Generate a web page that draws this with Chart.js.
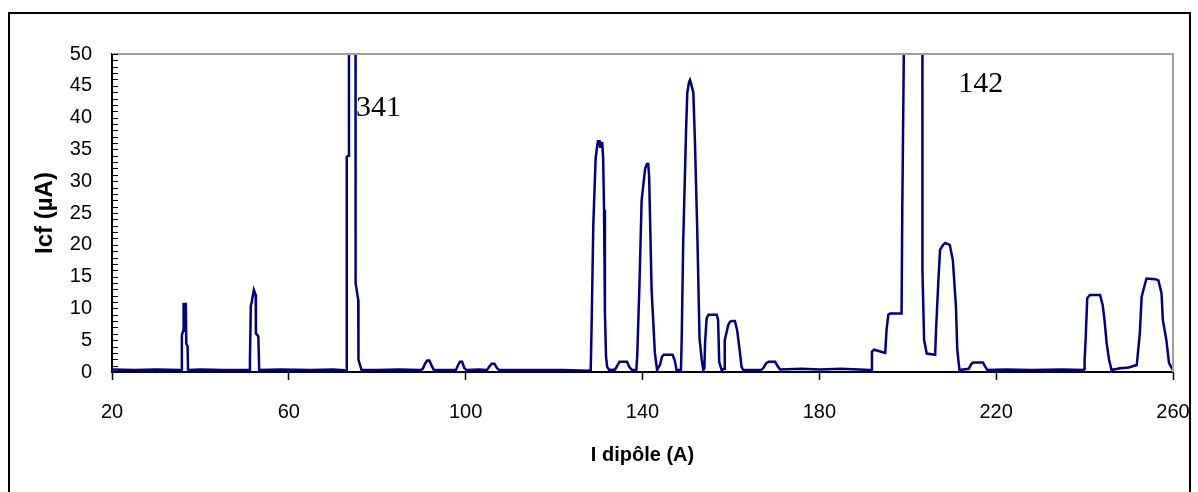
<!DOCTYPE html>
<html>
<head>
<meta charset="utf-8">
<script src="https://cdn.jsdelivr.net/npm/chart.js@4.4.1/dist/chart.umd.min.js"></script>
<style>
  body { margin: 0; background: #fff; }
  canvas { display: block; }
</style>
</head>
<body>
<canvas id="icfChart" width="1198" height="492"></canvas>
<script>
// courant dipôle (A) et Icf (µA)
const iDipole = [
  20, 25, 30, 35.3, 35.5, 35.7,
  35.8, 36.1, 36.2, 36.7, 36.8, 37.1, 37.2,
  40, 45, 50.8, 51.0,
  51.2, 51.4, 51.6, 52.1, 52.5, 52.55, 53.1, 53.3,
  58, 65, 70, 72.5, 72.8, 73.05,
  73.1, 73.4, 73.6, 75.0, 75.1, 75.7, 75.75, 76.45,
  80, 85, 89.8,
  90.3, 90.8, 91.3, 91.8, 92.3, 92.8,
  95, 97.8, 98.3, 98.7, 99.2, 99.7, 100.2,
  103, 104.8, 105.4, 105.9, 106.5, 107.1, 107.6,
  115, 122, 127.8, 128.2,
  128.3, 128.5, 128.87, 129.4, 129.8, 129.9, 130.3, 130.4, 130.5, 130.9, 131.1, 131.3, 131.5, 131.75, 132.0, 132.5,
  133.8, 134.3, 134.8, 136.5, 137.0, 137.6, 138.6,
  138.8, 139.3, 139.8, 140.6, 141.0, 141.3, 141.5, 141.7, 142.06, 142.8, 143.3,
  144.0, 144.4, 144.8, 146.8, 147.3, 147.7, 148.7,
  148.86, 149.2, 149.84, 150.13, 150.5, 150.74, 151.0, 151.5, 151.87, 152.4, 152.9, 153.4, 153.75,
  154.0, 154.15, 154.5, 154.9, 156.8, 157.1, 157.35, 157.9,
  158.5, 158.6, 159.4, 159.8, 160.2, 160.9, 161.4, 162.05, 162.4, 162.8,
  166.8, 167.3, 168.0, 168.5, 170.0, 170.6, 171.1,
  176, 180, 185, 191.5,
  191.7, 191.9, 192.4, 194.9, 195.2, 195.6, 196.0, 198.6, 198.76,
  200.4, 203.3, 203.32, 203.7, 204.3, 206.2, 206.4, 206.9, 207.3, 208.0, 208.5, 209.5, 210.2, 210.9, 211.2, 211.7,
  213.8, 214.3, 214.8, 217.0, 217.5, 218.0,
  222, 228, 235, 239.8,
  239.9, 240.0, 240.2, 240.6, 241.2, 243.5, 244.1, 244.5, 245.0, 245.55, 246.1,
  248, 250, 251.8, 252.5, 252.9, 253.3, 254.0, 256.0, 256.7, 257.4, 257.7, 258.5, 259.1, 260
];
const icf = [
  0.4, 0.3, 0.4, 0.3, 0.1, 0.2,
  5.8, 6.5, 10.7, 10.7, 4.5, 4.0, 0.3,
  0.4, 0.3, 0.3, 0.2,
  1.9, 10.4, 11.0, 12.9, 12.1, 6.1, 5.6, 0.3,
  0.4, 0.3, 0.4, 0.3, 0.0, 0.1,
  33.8, 34.0, 341, 341, 14.0, 11.3, 1.9, 0.3,
  0.3, 0.4, 0.3,
  0.5, 1.3, 1.8, 1.8, 1.0, 0.3,
  0.3, 0.3, 1.1, 1.6, 1.6, 0.6, 0.3,
  0.4, 0.3, 0.9, 1.3, 1.3, 0.6, 0.3,
  0.3, 0.3, 0.2, 0.3,
  0.8, 7.7, 23.1, 33.6, 35.8, 36.3, 36.3, 35.4, 36.0, 36.0, 33.6, 25.5, 9.3, 2.4, 0.8, 0.3,
  0.4, 1.0, 1.6, 1.6, 0.8, 0.3, 0.3,
  2.4, 13.4, 27.0, 32.0, 32.7, 32.7, 30.7, 24.4, 12.9, 3.0, 0.3,
  1.2, 2.4, 2.7, 2.7, 1.8, 0.3, 0.3,
  5.0, 20.2, 37.6, 43.9, 45.5, 45.9, 45.3, 43.9, 36.0, 21.8, 5.3, 1.9, 0.3,
  0.6, 4.6, 8.4, 9.0, 9.0, 8.2, 1.6, 0.3,
  0.5, 5.0, 7.4, 7.9, 8.0, 8.0, 6.6, 3.0, 0.8, 0.3,
  0.3, 0.6, 1.4, 1.6, 1.6, 0.9, 0.4,
  0.5, 0.4, 0.5, 0.3,
  0.3, 3.2, 3.5, 3.0, 6.6, 9.0, 9.2, 9.2, 25.0,
  142, 142, 16.0, 5.0, 2.9, 2.7, 6.6, 14.0, 19.2, 20.0, 20.3, 20.0, 17.6, 10.3, 3.5, 0.3,
  0.5, 1.2, 1.5, 1.5, 0.9, 0.3,
  0.4, 0.3, 0.4, 0.3,
  0.5, 1.9, 4.5, 11.6, 12.1, 12.1, 10.5, 8.2, 4.5, 1.9, 0.3,
  0.6, 0.7, 1.1, 6.1, 11.8, 12.9, 14.7, 14.6, 14.4, 12.4, 8.2, 5.0, 1.4, 0.3
];
const xTicks = [20, 60, 100, 140, 180, 220, 260];
const yTicks = [0, 5, 10, 15, 20, 25, 30, 35, 40, 45, 50];
// valeurs des deux pics hors échelle : [x, y, texte]
const peakNotes = [[75.2, 40.3, '341'], [211.4, 44.1, '142']];

const sansFont = "'Liberation Sans', Arial, sans-serif";

const framePlugin = {
    id: 'frame',
    beforeDraw(chart) {
        const ctx = chart.ctx;
        ctx.save();
        ctx.strokeStyle = '#000';
        ctx.lineWidth = 2;
        ctx.strokeRect(9, 13, 1181, 490);
        ctx.restore();
    },
    afterDraw(chart) {
        const { ctx, chartArea: a, scales: { x, y } } = chart;
        ctx.save();
        // bords haut et droit gris
        ctx.strokeStyle = '#a0a0a0';
        ctx.lineWidth = 2;
        ctx.beginPath();
        ctx.moveTo(a.left, a.top);
        ctx.lineTo(a.right, a.top);
        ctx.lineTo(a.right, a.bottom);
        ctx.stroke();
        // graduations secondaires de l'axe Y (vers l'intérieur)
        ctx.strokeStyle = '#000';
        ctx.lineWidth = 1;
        for (let v = y.min; v <= y.max; v++) {
            const py = Math.round(y.getPixelForValue(v)) + 0.5;
            ctx.beginPath();
            ctx.moveTo(a.left, py);
            ctx.lineTo(a.left + 6, py);
            ctx.stroke();
        }
        // annotations des pics
        ctx.fillStyle = '#000';
        ctx.font = "30px 'Liberation Serif', 'Times New Roman', serif";
        ctx.textAlign = 'left';
        ctx.textBaseline = 'alphabetic';
        peakNotes.forEach(([px, py, txt]) => {
            ctx.fillText(txt, x.getPixelForValue(px), y.getPixelForValue(py));
        });
        ctx.restore();
    }
};

new Chart(document.getElementById('icfChart'), {
    type: 'line',
    data: {
        datasets: [{
            data: iDipole.map((v, i) => ({ x: v, y: icf[i] })),
            borderColor: '#000080',
            borderWidth: 2.5,
            pointRadius: 0,
            tension: 0,
            fill: false
        }]
    },
    options: {
        responsive: false,
        devicePixelRatio: 1,
        animation: false,
        layout: { padding: { left: 0, top: 54, right: 25, bottom: 0 } },
        plugins: { legend: { display: false }, tooltip: { enabled: false } },
        scales: {
            x: {
                type: 'linear',
                min: 20,
                max: 260,
                afterBuildTicks: s => { s.ticks = xTicks.map(v => ({ value: v })); },
                afterFit: s => { s.height = 120; s.paddingLeft = 0; s.paddingRight = 0; },
                grid: { drawOnChartArea: false, tickLength: 8, tickColor: '#000', tickWidth: 1.5 },
                border: { color: '#000', width: 2 },
                ticks: { color: '#000', padding: 20, maxRotation: 0, font: { family: sansFont, size: 20 } },
                title: {
                    display: true,
                    text: 'I dipôle (A)',
                    color: '#000',
                    font: { family: sansFont, size: 20, weight: 'bold' },
                    padding: { top: 0, bottom: 25 }
                }
            },
            y: {
                min: 0,
                max: 50,
                afterBuildTicks: s => { s.ticks = yTicks.map(v => ({ value: v })); },
                afterFit: s => { s.width = 112; s.paddingTop = 0; s.paddingBottom = 0; },
                grid: { display: false, drawTicks: false },
                border: { display: true, color: '#000', width: 2 },
                ticks: { color: '#000', padding: 20, font: { family: sansFont, size: 20 } },
                title: {
                    display: true,
                    text: 'Icf (µA)',
                    color: '#000',
                    font: { family: sansFont, size: 24, weight: 'bold' },
                    padding: { top: 31, bottom: 0 }
                }
            }
        }
    },
    plugins: [framePlugin]
});
</script>
</body>
</html>
